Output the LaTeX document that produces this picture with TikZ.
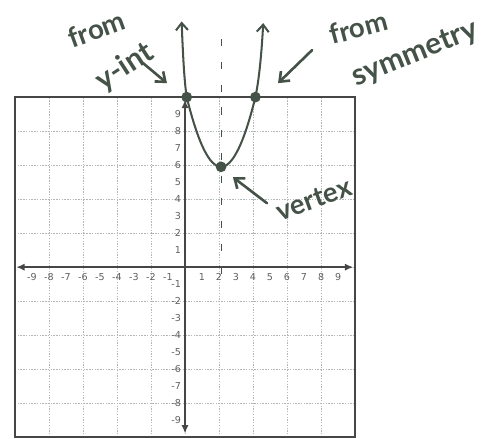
\documentclass[tikz,border=0pt]{standalone}
\usepackage{fontspec}
\setmainfont{DejaVu Sans}
\newfontfamily\handfont{Lato}
\usetikzlibrary{arrows.meta}
\definecolor{ink}{RGB}{68,82,72}
\definecolor{gridc}{RGB}{178,184,184}
\definecolor{axisc}{RGB}{70,70,70}
\definecolor{tickc}{RGB}{95,95,95}
\tikzset{
  gridline/.style={gridc, line width=0.5pt, dash pattern=on 1.2pt off 1.1pt},
  frame/.style={axisc, line width=1.5pt},
  axisline/.style={axisc, line width=1.6pt},
  ticklab/.style={font=\fontsize{8}{9}\selectfont, text=tickc, inner sep=0pt},
  hand/.style={font=\handfont\bfseries\fontsize{23}{25}\selectfont, text=ink, inner sep=0pt},
  handbig/.style={font=\handfont\bfseries\fontsize{25}{27}\selectfont, text=ink, inner sep=0pt},
  inkline/.style={ink, line width=1.7pt},
  pointer/.style={ink, line width=2.2pt, line cap=round, -{Straight Barb[length=7pt,width=11pt,line width=2.2pt]}},
  dotnode/.style={circle, fill=ink, minimum size=9pt, inner sep=0pt},
  symline/.style={ink, line width=1.1pt, dash pattern=on 6pt off 13pt}
}
\begin{document}
\begin{tikzpicture}[x=0.5cm,y=0.5cm]
\useasboundingbox (-10.88,-10.08) rectangle (18.76,15.71);
% grid
\draw[gridline] (-10,-10) grid (10,10);
\draw[frame] (-10,-10) rectangle (10,10);
% axes
\coordinate (xl) at (-9.93,0);
\coordinate (xr) at (9.9,0);
\coordinate (yb) at (0,-9.78);
\coordinate (yt) at (0,9.85);
\draw[axisline, {Latex[length=7pt,width=6pt]}-{Latex[length=7pt,width=6pt]}] (xl) -- (xr);
\draw[axisline, {Latex[length=7pt,width=6pt]}-{Latex[length=7pt,width=6pt]}] (yb) -- (yt);
% tick labels
\foreach \i in {-9,...,-1,1,2,...,9} {
  \node[ticklab] (tx\i) at (\i,-0.6) {\i};
  \node[ticklab, anchor=east] (ty\i) at (-0.22,\i) {\i};
}
% axis of symmetry
\coordinate (st) at (2.15,13.4);
\coordinate (sb) at (2.15,-0.9);
\draw[symline] (st) -- (sb);
% parabola points
\node[dotnode] (pa) at (0.1,10) {};
\node[dotnode] (pv) at (2.12,5.9) {};
\node[dotnode] (pb) at (4.14,10) {};
\coordinate (tl) at (-0.2,14.45);
\coordinate (tr) at (4.6,14.35);
\draw[inkline, line join=round, {Straight Barb[length=6pt,width=10pt,line width=1.7pt]}-{Straight Barb[length=6pt,width=10pt,line width=1.7pt]}]
  (tl) .. controls (-0.12,12.5) and (-0.05,11) .. (pa.center)
  .. controls (1.447,4.533) and (2.793,4.533) .. (pb.center)
  .. controls (4.35,11) and (4.5,12.5) .. (tr);
% handwritten labels
\node[hand, rotate=20] (l1) at (-5.2,14.0) {from};
\node[handbig, rotate=33] (l2) at (-3.55,11.75) {y-int};
\node[hand, rotate=15] (l3) at (10.2,14.1) {from};
\node[handbig, rotate=22] (l4) at (13.55,12.5) {symmetry};
\node[hand, rotate=20] (l5) at (7.6,4.0) {vertex};
% pointers
\coordinate (a1s) at (-2.47,12.0);
\coordinate (a1e) at (-1.06,10.82);
\coordinate (a2s) at (7.47,12.76);
\coordinate (a2e) at (5.47,10.82);
\coordinate (a3s) at (4.82,3.76);
\coordinate (a3e) at (2.82,5.29);
\draw[pointer] (a1s) -- (a1e);
\draw[pointer] (a2s) -- (a2e);
\draw[pointer] (a3s) -- (a3e);
\end{tikzpicture}
\end{document}
